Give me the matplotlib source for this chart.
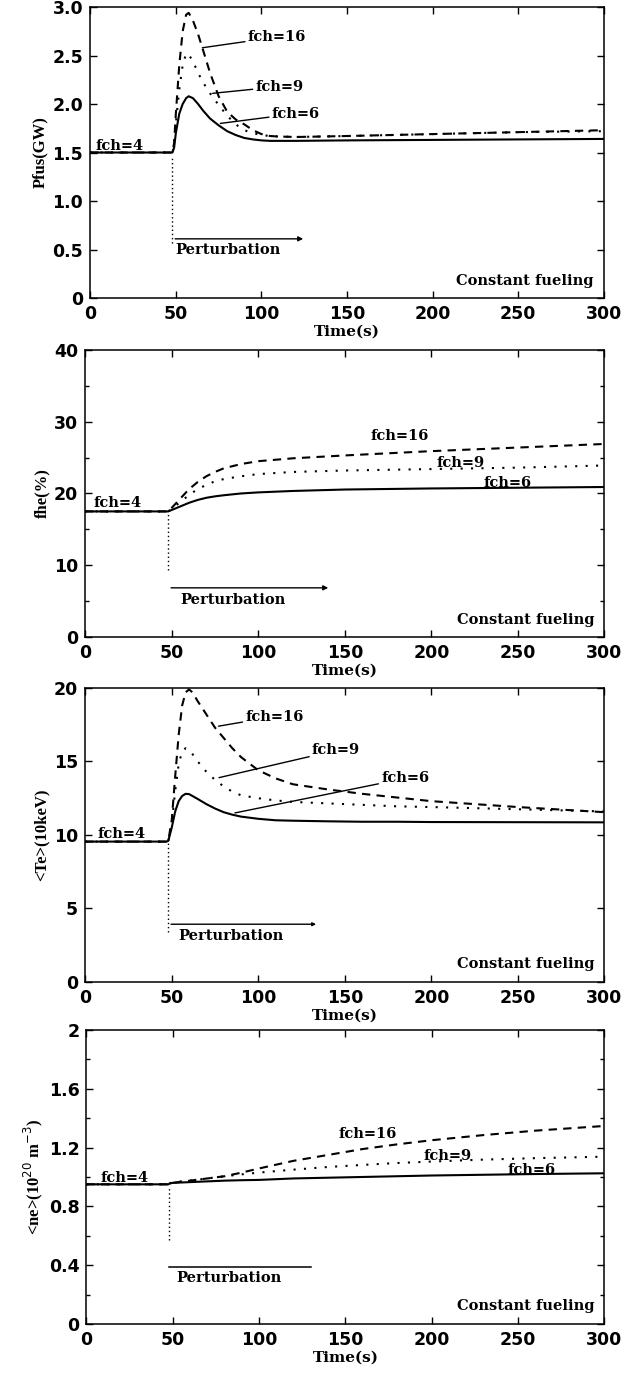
import matplotlib
matplotlib.use("Agg")
import matplotlib.pyplot as plt
from matplotlib.ticker import MultipleLocator, FixedLocator

# ---------------- data ----------------
# Fusion power Pfus (GW)
t_pfus = [0, 48, 49, 50, 52, 54, 56, 57.5, 60, 63, 66, 70, 75, 80, 85, 90, 95, 100, 105, 110, 120, 150, 200, 250, 300]
pfus_fch6 = [1.5, 1.5, 1.55, 1.7, 1.9, 2.0, 2.06, 2.08, 2.06, 2.0, 1.93, 1.85, 1.78, 1.72, 1.68, 1.65, 1.635, 1.625, 1.62, 1.62, 1.62, 1.625, 1.63, 1.635, 1.64]
pfus_fch9 = [1.5, 1.5, 1.58, 1.8, 2.15, 2.4, 2.52, 2.51, 2.44, 2.32, 2.22, 2.11, 1.99, 1.88, 1.79, 1.73, 1.70, 1.68, 1.67, 1.665, 1.66, 1.67, 1.69, 1.71, 1.72]
pfus_fch16 = [1.5, 1.5, 1.6, 1.9, 2.4, 2.75, 2.92, 2.94, 2.86, 2.72, 2.55, 2.32, 2.08, 1.92, 1.84, 1.79, 1.73, 1.69, 1.67, 1.665, 1.66, 1.67, 1.69, 1.71, 1.73]

# Helium fraction fhe (%)
t_fhe = [0, 48, 50, 55, 60, 65, 70, 75, 80, 90, 100, 120, 150, 200, 250, 300]
fhe_fch6 = [17.5, 17.5, 17.7, 18.2, 18.7, 19.1, 19.4, 19.6, 19.75, 20.0, 20.15, 20.35, 20.55, 20.7, 20.8, 20.9]
fhe_fch9 = [17.5, 17.5, 17.9, 18.8, 19.8, 20.6, 21.2, 21.7, 22.0, 22.4, 22.7, 23.0, 23.2, 23.4, 23.6, 23.9]
fhe_fch16 = [17.5, 17.5, 18.0, 19.3, 20.6, 21.6, 22.4, 23.0, 23.5, 24.1, 24.5, 24.9, 25.3, 25.9, 26.4, 26.9]

# Electron temperature <Te>
t_te = [0, 47, 48, 50, 52, 54, 56, 58, 60, 62, 65, 70, 75, 80, 85, 90, 100, 110, 120, 140, 160, 180, 200, 250, 300]
te_fch6 = [9.55, 9.55, 9.6, 10.5, 11.6, 12.3, 12.65, 12.8, 12.78, 12.65, 12.45, 12.1, 11.8, 11.55, 11.38, 11.25, 11.1, 11.0, 10.97, 10.93, 10.9, 10.9, 10.88, 10.87, 10.86]
te_fch9 = [9.55, 9.55, 9.6, 10.8, 13.0, 14.8, 15.7, 15.9, 15.8, 15.5, 15.0, 14.3, 13.75, 13.3, 12.95, 12.7, 12.5, 12.35, 12.25, 12.15, 12.05, 11.95, 11.9, 11.75, 11.6]
te_fch16 = [9.55, 9.55, 9.6, 11.0, 14.0, 16.8, 18.8, 19.7, 19.9, 19.7, 19.1, 18.2, 17.3, 16.6, 15.9, 15.3, 14.4, 13.85, 13.45, 13.1, 12.8, 12.55, 12.3, 11.9, 11.55]

# Electron density <ne>
t_ne = [0, 47.5, 48, 50, 60, 70, 80, 90, 100, 120, 140, 160, 180, 200, 230, 260, 300]
ne_fch6 = [0.95, 0.95, 0.955, 0.96, 0.965, 0.97, 0.975, 0.978, 0.98, 0.99, 0.995, 1.0, 1.005, 1.01, 1.015, 1.02, 1.025]
ne_fch9 = [0.95, 0.95, 0.955, 0.965, 0.975, 0.99, 1.005, 1.018, 1.03, 1.05, 1.068, 1.082, 1.095, 1.105, 1.118, 1.128, 1.138]
ne_fch16 = [0.95, 0.95, 0.955, 0.96, 0.975, 0.99, 1.005, 1.03, 1.058, 1.11, 1.15, 1.19, 1.222, 1.25, 1.285, 1.315, 1.347]

x_ticks = [0, 50, 100, 150, 200, 250, 300]
t_perturb = 48

# ---------------- styling ----------------
TICK_FONT = dict(family="DejaVu Sans", weight="bold", size=12.5)
TXT_FONT = dict(family="DejaVu Serif", weight="bold", size=10.5)
YLAB_FONT = dict(family="Liberation Serif", weight="bold", size=12)

fig = plt.figure(figsize=(6.31, 13.74), dpi=100)

panels = [
    dict(rect=[0.143, 0.7831, 0.814, 0.2118], ylim=(0, 3.0),
         yticks=[0, 0.5, 1.0, 1.5, 2.0, 2.5, 3.0], ylabels=["0", "0.5", "1.0", "1.5", "2.0", "2.5", "3.0"],
         minor=None, ylabel="Pfus(GW)",
         t=t_pfus, s6=pfus_fch6, s9=pfus_fch9, s16=pfus_fch16),
    dict(rect=[0.135, 0.5364, 0.823, 0.2089], ylim=(0, 40),
         yticks=[0, 10, 20, 30, 40], ylabels=["0", "10", "20", "30", "40"],
         minor=5, ylabel="fhe(%)",
         t=t_fhe, s6=fhe_fch6, s9=fhe_fch9, s16=fhe_fch16),
    dict(rect=[0.135, 0.2853, 0.823, 0.2140], ylim=(0, 20),
         yticks=[0, 5, 10, 15, 20], ylabels=["0", "5", "10", "15", "20"],
         minor=None, ylabel="<Te>(10keV)",
         t=t_te, s6=te_fch6, s9=te_fch9, s16=te_fch16),
    dict(rect=[0.137, 0.0364, 0.821, 0.2140], ylim=(0, 2.0),
         yticks=[0, 0.4, 0.8, 1.2, 1.6, 2.0], ylabels=["0", "0.4", "0.8", "1.2", "1.6", "2"],
         minor=0.2, ylabel=r"<ne>(10$^{20}$ m$^{-3}$)",
         t=t_ne, s6=ne_fch6, s9=ne_fch9, s16=ne_fch16),
]

axes = []
for p in panels:
    ax = fig.add_axes(p["rect"])
    axes.append(ax)
    ax.plot(p["t"], p["s6"], color="black", lw=1.5, ls="-")
    ax.plot(p["t"], p["s9"], color="black", lw=1.5, ls=(0, (1, 4)))
    ax.plot(p["t"], p["s16"], color="black", lw=1.5, ls=(0, (4, 3)))
    ax.set_xlim(0, 300)
    ax.set_ylim(*p["ylim"])
    ax.xaxis.set_major_locator(FixedLocator(x_ticks))
    ax.set_xticklabels([str(v) for v in x_ticks], fontdict=TICK_FONT)
    ax.yaxis.set_major_locator(FixedLocator(p["yticks"]))
    ax.set_yticklabels(p["ylabels"], fontdict=TICK_FONT)
    if p["minor"]:
        ax.yaxis.set_minor_locator(MultipleLocator(p["minor"]))
    ax.tick_params(which="both", direction="in", top=True, right=True, width=1.0)
    ax.tick_params(which="major", length=5, pad=5)
    ax.tick_params(which="minor", length=3)
    for sp in ax.spines.values():
        sp.set_linewidth(1.1)
    ax.set_xlabel("Time(s)", fontdict=dict(TXT_FONT, size=11), labelpad=1)
    ax.set_ylabel(p["ylabel"], fontdict=YLAB_FONT, labelpad=3)
    ax.text(294, p["ylim"][1] * 0.06, "Constant fueling", ha="right", va="center", **TXT_FONT)

line_kw = dict(arrowstyle="-", color="black", lw=1, shrinkA=0, shrinkB=0)

# --- panel 1 annotations
ax = axes[0]
ax.plot([t_perturb, t_perturb], [0.57, 1.45], color="black", lw=1, ls=(0, (1, 2)))
ax.annotate("", xy=(126, 0.61), xytext=(t_perturb, 0.61),
            arrowprops=dict(arrowstyle="-|>", color="black", lw=1, mutation_scale=7))
ax.text(50, 0.50, "Perturbation", ha="left", va="center", **TXT_FONT)
ax.text(3, 1.57, "fch=4", ha="left", va="center", **TXT_FONT)
ax.annotate("fch=16", xy=(65.5, 2.58), xytext=(92, 2.69), ha="left", va="center",
            arrowprops=line_kw, **TXT_FONT)
ax.annotate("fch=9", xy=(71.5, 2.11), xytext=(96.5, 2.18), ha="left", va="center",
            arrowprops=line_kw, **TXT_FONT)
ax.annotate("fch=6", xy=(76, 1.80), xytext=(106, 1.90), ha="left", va="center",
            arrowprops=line_kw, **TXT_FONT)

# --- panel 2 annotations
ax = axes[1]
ax.plot([t_perturb, t_perturb], [9.3, 17.3], color="black", lw=1, ls=(0, (1, 2)))
ax.annotate("", xy=(142, 6.85), xytext=(t_perturb, 6.85),
            arrowprops=dict(arrowstyle="-|>", color="black", lw=1, mutation_scale=7))
ax.text(55, 5.1, "Perturbation", ha="left", va="center", **TXT_FONT)
ax.text(5, 18.7, "fch=4", ha="left", va="center", **TXT_FONT)
ax.text(165, 28.0, "fch=16", ha="left", va="center", **TXT_FONT)
ax.text(203, 24.2, "fch=9", ha="left", va="center", **TXT_FONT)
ax.text(230, 21.5, "fch=6", ha="left", va="center", **TXT_FONT)

# --- panel 3 annotations
ax = axes[2]
ax.plot([t_perturb, t_perturb], [3.4, 9.5], color="black", lw=1, ls=(0, (1, 2)))
ax.annotate("", xy=(135, 3.93), xytext=(t_perturb, 3.93),
            arrowprops=dict(arrowstyle="-|>", color="black", lw=1, mutation_scale=5))
ax.text(54, 3.1, "Perturbation", ha="left", va="center", **TXT_FONT)
ax.text(7, 10.1, "fch=4", ha="left", va="center", **TXT_FONT)
ax.annotate("fch=16", xy=(77, 17.4), xytext=(92.5, 18.05), ha="left", va="center",
            arrowprops=line_kw, **TXT_FONT)
ax.annotate("fch=9", xy=(77.3, 13.9), xytext=(131, 15.75), ha="left", va="center",
            arrowprops=line_kw, **TXT_FONT)
ax.annotate("fch=6", xy=(86.5, 11.5), xytext=(171, 13.85), ha="left", va="center",
            arrowprops=line_kw, **TXT_FONT)

# --- panel 4 annotations
ax = axes[3]
ax.plot([t_perturb, t_perturb], [0.57, 0.94], color="black", lw=1, ls=(0, (1, 2)))
ax.plot([t_perturb, 130], [0.386, 0.386], color="black", lw=1.1)
ax.text(52, 0.31, "Perturbation", ha="left", va="center", **TXT_FONT)
ax.text(8, 0.99, "fch=4", ha="left", va="center", **TXT_FONT)
ax.text(146, 1.29, "fch=16", ha="left", va="center", **TXT_FONT)
ax.text(195, 1.145, "fch=9", ha="left", va="center", **TXT_FONT)
ax.text(244, 1.05, "fch=6", ha="left", va="center", **TXT_FONT)

fig.savefig("out.png", dpi=100)
